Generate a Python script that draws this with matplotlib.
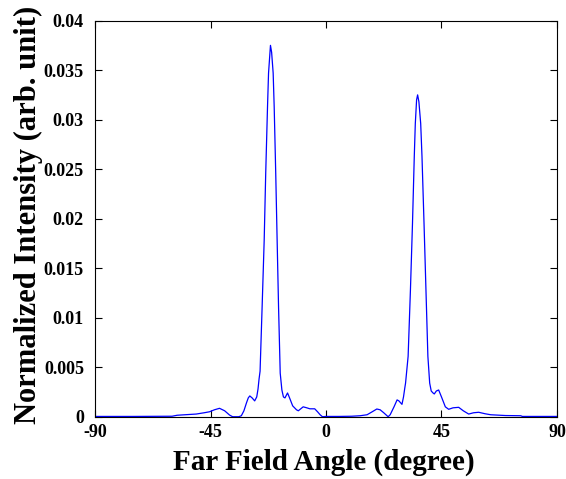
import numpy as np
import matplotlib
matplotlib.use("Agg")
import matplotlib.pyplot as plt

# far field profile (angle in degree, normalized intensity)
angle_deg = [-90, -75, -60, -58, -55, -50.6, -47.5, -45.4, -43.5, -41.5,
             -39.5, -37.6, -36.4, -34.0, -33.0, -32.0, -31.0, -30.3, -29.7, -28.8,
             -27.8, -27.0, -26.5, -26.1, -25.7, -24.9, -24.1, -23.5, -22.8, -22.4,
             -21.65, -21.2, -20.6, -20.2, -19.6, -19.05, -18.5, -17.85, -17.2, -16.6,
             -16.0, -15.0, -14.2, -13.0, -11.5, -10.8, -8.9, -7.5, -6.3, -4.4,
             -3.3, -2.3, -1.4, 0, 5, 10, 13.3, 16.0, 18.0, 19.8,
             21.1, 22.5, 24.2, 25.0, 26.5, 27.7, 28.4, 29.6, 30.2, 30.7,
             31.0, 32.0, 32.9, 33.7, 34.4, 34.8, 35.3, 35.7, 36.2, 36.9,
             37.4, 38.2, 38.95, 39.7, 40.4, 41.0, 41.7, 42.2, 43.0, 43.9,
             45.0, 46.5, 47.8, 49.5, 51.7, 53.5, 55.6, 57.5, 59.5, 62.0,
             64.2, 70.0, 75.9, 76.5, 90]

intensity = [0.00003, 0.00003, 0.00005, 0.00015, 0.0002, 0.00027, 0.0004, 0.0005, 0.0007, 0.00085,
             0.0006, 0.00017, 0.0, 0.0, 0.0001, 0.0006, 0.0014, 0.0019, 0.0021, 0.0019,
             0.0016, 0.0020, 0.0028, 0.0038, 0.0046, 0.0111, 0.0178, 0.0246, 0.0313, 0.0347,
             0.0375, 0.0368, 0.0347, 0.0313, 0.0246, 0.0178, 0.0111, 0.0044, 0.0027, 0.0020,
             0.0019, 0.0024, 0.0019, 0.0011, 0.0007, 0.0006, 0.0010, 0.0009, 0.0008, 0.0008,
             0.0005, 0.0002, 0.0, 0.00003, 0.00003, 0.00005, 0.0001, 0.0002, 0.0005, 0.00078,
             0.0007, 0.0004, 0.0, 0.0002, 0.0010, 0.0017, 0.0016, 0.00125, 0.0020, 0.0029,
             0.0034, 0.0061, 0.0128, 0.0195, 0.0263, 0.0296, 0.0320, 0.0325, 0.0318, 0.0296,
             0.0263, 0.0195, 0.0128, 0.0061, 0.0034, 0.0026, 0.0024, 0.0023, 0.0026, 0.0027,
             0.0020, 0.0010, 0.00075, 0.0009, 0.00095, 0.0006, 0.00027, 0.0004, 0.00045, 0.0003,
             0.0002, 0.00012, 0.0001, 0.00003, 0.00003]

x_ticks = [-90, -45, 0, 45, 90]
y_ticks = [0, 0.005, 0.01, 0.015, 0.02, 0.025, 0.03, 0.035, 0.04]
y_tick_labels = ["0", "0.005", "0.01", "0.015", "0.02", "0.025", "0.03", "0.035", "0.04"]

plt.rcParams['font.family'] = ['Liberation Serif', 'DejaVu Serif']
plt.rcParams['font.weight'] = 'bold'

fig = plt.figure(figsize=(5.66, 4.79), dpi=100)
ax = fig.add_axes([0.168, 0.130, 0.816, 0.827])

ax.plot(angle_deg, intensity, color='#0000ff', linewidth=0.9)

ax.set_xlim(-90, 90)
ax.set_ylim(0, 0.04)
ax.set_xticks(x_ticks)
ax.set_xticklabels([str(t) for t in x_ticks])
ax.set_yticks(y_ticks)
ax.set_yticklabels(y_tick_labels)

ax.tick_params(direction='in', length=5, width=0.8, top=True, right=True,
               labelsize=13, color='black')
ax.tick_params(axis='x', pad=5)
ax.tick_params(axis='y', pad=8)
for lab in ax.get_xticklabels() + ax.get_yticklabels():
    lab.set_fontweight('bold')
for sp in ax.spines.values():
    sp.set_linewidth(0.8)

ax.set_xlabel('Far Field Angle (degree)', fontsize=21, fontweight='bold')
ax.set_ylabel('Normalized Intensity (arb. unit)', fontsize=22, fontweight='bold')
ax.xaxis.set_label_coords(0.496, -0.08)
ax.yaxis.set_label_coords(-0.113, 0.51)

fig.savefig('out.png', dpi=100)
